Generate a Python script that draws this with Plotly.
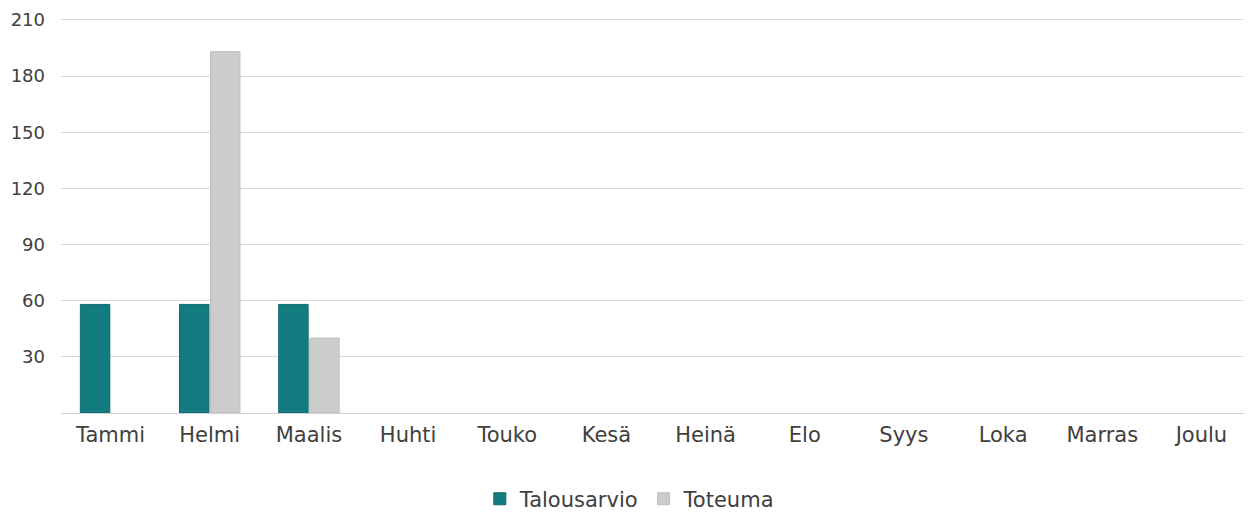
import plotly.graph_objects as go

months = ["Tammi", "Helmi", "Maalis", "Huhti", "Touko", "Kesä", "Heinä", "Elo", "Syys", "Loka", "Marras", "Joulu"]
talousarvio = [58, 58, 58, None, None, None, None, None, None, None, None, None]
toteuma = [None, 193, 40, None, None, None, None, None, None, None, None, None]
y_ticks = [30, 60, 90, 120, 150, 180, 210]

fig = go.Figure()
fig.add_trace(go.Bar(x=months, y=talousarvio, name="Talousarvio",
                     marker=dict(color="#137C80", line=dict(color="#0F6A6E", width=1))))
fig.add_trace(go.Bar(x=months, y=toteuma, name="Toteuma",
                     marker=dict(color="#CCCCCC", line=dict(color="#BDBDBD", width=1))))

fig.update_layout(
    width=1244, height=510,
    margin=dict(l=53, r=1, t=10, b=105, autoexpand=False),
    paper_bgcolor="white", plot_bgcolor="white",
    barmode="group", bargap=0.375, bargroupgap=0.05,
    font=dict(family="DejaVu Sans", size=20, color="#404040"),
    showlegend=True,
    legend=dict(orientation="h", x=0.478, xanchor="center", y=-0.218, yanchor="middle",
                font=dict(size=21, color="#404040"), itemwidth=30, tracegroupgap=0),
    xaxis=dict(showgrid=False, showline=True, linecolor="#D0D0D0", linewidth=1,
               ticks="", ticklabelstandoff=3, tickfont=dict(size=21), automargin=False),
    yaxis=dict(range=[0, 211], tickvals=y_ticks, showgrid=True, gridcolor="#D9D9D9", gridwidth=1,
               zeroline=False, showline=False, ticks="", ticklabelstandoff=15,
               tickfont=dict(size=18), automargin=False),
)

fig.write_html("out.html")
